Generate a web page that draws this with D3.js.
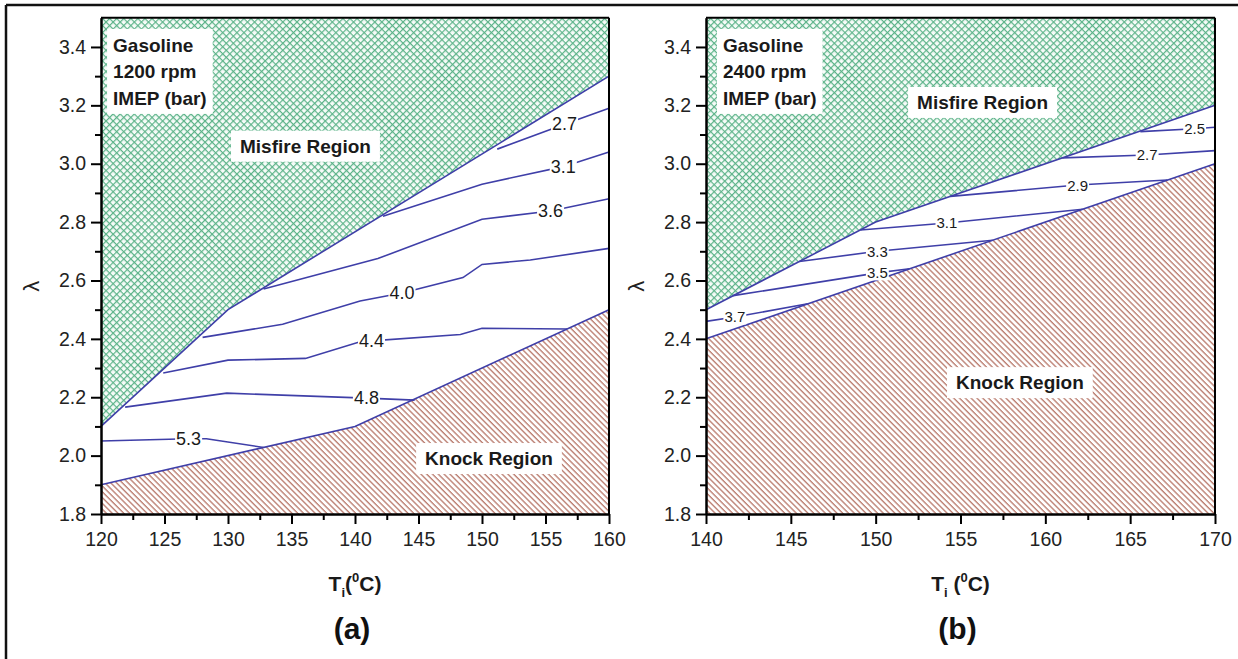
<!DOCTYPE html>
<html><head><meta charset="utf-8">
<script src="https://cdn.jsdelivr.net/npm/d3@7"></script>
<style>body{margin:0;background:#fff}svg{display:block}text{font-family:"Liberation Sans",Arial,sans-serif}</style>
</head><body>
<svg id="chart" width="1238" height="659"></svg>
<script>
// ---------------- DATA ----------------
const yTicks = [1.8, 2.0, 2.2, 2.4, 2.6, 2.8, 3.0, 3.2, 3.4];
const yMinor = [1.9, 2.1, 2.3, 2.5, 2.7, 2.9, 3.1, 3.3];
const yDomain = [1.8, 3.5];

// Panel (a): 1200 rpm
const xTicksA = [120, 125, 130, 135, 140, 145, 150, 155, 160];
const xMinorA = [122.5, 127.5, 132.5, 137.5, 142.5, 147.5, 152.5, 157.5];
const misfireA = [[120, 2.1], [130, 2.5], [160, 3.3]];
const knockA = [[120, 1.9], [140, 2.1], [160, 2.5]];
const levelsA = ["2.7", "3.1", "3.6", "4.0", "4.4", "4.8", "5.3"];
const contoursA = [
  [[151.2, 3.05], [156.5, 3.135], [160, 3.19]],
  [[142.2, 2.82], [150, 2.93], [156.4, 2.99], [160, 3.04]],
  [[132.8, 2.571], [141.8, 2.675], [150, 2.81], [155.4, 2.838], [160, 2.88]],
  [[128, 2.405], [134.3, 2.45], [140.4, 2.53], [143.7, 2.557], [148.5, 2.61], [150, 2.655], [153.8, 2.67], [160, 2.71]],
  [[124.9, 2.283], [130, 2.327], [136.1, 2.333], [140.4, 2.39], [141.3, 2.393], [148.3, 2.415], [150, 2.436], [156.7, 2.434]],
  [[121.9, 2.166], [129.9, 2.214], [140.9, 2.197], [144.7, 2.19]],
  [[120, 2.05], [126.9, 2.058], [128.3, 2.058], [132.8, 2.028]]
];
const labelPosA = [[156.5, 3.135], [156.4, 2.99], [155.4, 2.838], [143.7, 2.557], [141.3, 2.393], [140.9, 2.197], [126.9, 2.058]];

// Panel (b): 2400 rpm
const xTicksB = [140, 145, 150, 155, 160, 165, 170];
const xMinorB = [142.5, 147.5, 152.5, 157.5, 162.5, 167.5];
const misfireB = [[140, 2.5], [150, 2.8], [170, 3.2]];
const knockB = [[140, 2.4], [170, 3.0]];
const levelsB = ["2.5", "2.7", "2.9", "3.1", "3.3", "3.5", "3.7"];
const contoursB = [
  [[165.6, 3.11], [168.8, 3.12], [170, 3.125]],
  [[161, 3.02], [166, 3.03], [170, 3.045]],
  [[154.4, 2.888], [161.9, 2.927], [167.2, 2.944]],
  [[149.1, 2.773], [154.2, 2.797], [162.2, 2.844]],
  [[145.5, 2.665], [150.1, 2.70], [156.9, 2.738]],
  [[141.6, 2.548], [150.1, 2.626], [152, 2.64]],
  [[140, 2.46], [141.7, 2.475], [146, 2.52]]
];
const labelPosB = [[168.8, 3.12], [166, 3.03], [161.9, 2.927], [154.2, 2.797], [150.1, 2.70], [150.1, 2.626], [141.7, 2.475]];

const infoA = ["Gasoline", "1200 rpm", "IMEP (bar)"];
const infoB = ["Gasoline", "2400 rpm", "IMEP (bar)"];
const misfireText = "Misfire Region";
const knockText = "Knock Region";

// --------------- RENDER ---------------
const svg = d3.select("#chart");
svg.append("rect").attr("width", 1238).attr("height", 659).attr("fill", "#fff");

const defs = svg.append("defs");
const P = 5.0;
const green = defs.append("pattern").attr("id", "cross").attr("patternUnits", "userSpaceOnUse")
  .attr("width", P).attr("height", P).attr("patternTransform", "rotate(45)");
green.append("rect").attr("width", P).attr("height", P).attr("fill", "#f7fcf9");
green.append("line").attr("x1", 0).attr("y1", 0).attr("x2", P).attr("y2", 0).attr("stroke", "#5cb389").attr("stroke-width", 2.4);
green.append("line").attr("x1", 0).attr("y1", 0).attr("x2", 0).attr("y2", P).attr("stroke", "#5cb389").attr("stroke-width", 2.4);

const H = 4.1;
const brown = defs.append("pattern").attr("id", "hatch").attr("patternUnits", "userSpaceOnUse")
  .attr("width", 4).attr("height", H).attr("patternTransform", "rotate(45)");
brown.append("rect").attr("width", 4).attr("height", H).attr("fill", "#fff");
brown.append("line").attr("x1", 0).attr("y1", 0.7).attr("x2", 4).attr("y2", 0.7).attr("stroke", "#b8786a").attr("stroke-width", 1.3);

// outer frame (left and top edges visible)
svg.append("line").attr("x1", 6).attr("y1", 5).attr("x2", 1238).attr("y2", 5).attr("stroke", "#111").attr("stroke-width", 2.5);
svg.append("line").attr("x1", 6).attr("y1", 5).attr("x2", 6).attr("y2", 659).attr("stroke", "#111").attr("stroke-width", 2.5);

const lineColor = "#3f3fa8";

function labelBox(g, x, y, txt, opts) {
  const t = g.append("text").attr("x", x).attr("y", y).attr("text-anchor", "middle")
    .attr("dominant-baseline", "central").attr("font-size", opts.size)
    .attr("font-weight", opts.bold ? "bold" : "normal").attr("fill", "#1a1a1a").text(txt);
  const b = t.node().getBBox();
  g.insert("rect", () => t.node()).attr("x", b.x - opts.px).attr("y", b.y - opts.py + 1)
    .attr("width", b.width + 2 * opts.px).attr("height", b.height + 2 * opts.py - 2).attr("fill", "#fff");
}

function panel(cfg) {
  const x = d3.scaleLinear().domain(cfg.xDomain).range([cfg.left, cfg.right]);
  const y = d3.scaleLinear().domain(yDomain).range([514, 514 - 1.7 * 291.9]);
  const g = svg.append("g");
  const [x0, x1] = cfg.xDomain;
  const poly = d3.line().x(d => x(d[0])).y(d => y(d[1]));

  const mis = [[x0, yDomain[1]], [x1, yDomain[1]]].concat(cfg.misfire.slice().reverse());
  g.append("path").attr("d", poly(mis) + "Z").attr("fill", "url(#cross)");
  const kn = cfg.knock.concat([[x1, yDomain[0]], [x0, yDomain[0]]]);
  g.append("path").attr("d", poly(kn) + "Z").attr("fill", "url(#hatch)");

  const lines = [cfg.misfire, cfg.knock].concat(cfg.contours);
  g.selectAll("path.c").data(lines).enter().append("path").attr("class", "c")
    .attr("d", poly).attr("fill", "none").attr("stroke", lineColor).attr("stroke-width", 1.6);

  cfg.levels.forEach((lv, i) => {
    labelBox(g, x(cfg.labelPos[i][0]), y(cfg.labelPos[i][1]), lv, {size: cfg.labelSize, bold: false, px: 1, py: 0});
  });

  labelBox(g, x(cfg.misPos[0]), y(cfg.misPos[1]), misfireText, {size: 19, bold: true, px: 9, py: 6});
  labelBox(g, x(cfg.knPos[0]), y(cfg.knPos[1]), knockText, {size: 19, bold: true, px: 9, py: 6});

  const ix = x(cfg.infoPos[0]), iy = y(cfg.infoPos[1]);
  const ig = g.append("g");
  cfg.info.forEach((s, i) => ig.append("text").attr("x", ix).attr("y", iy + i * 26.5)
    .attr("font-size", 19).attr("font-weight", "bold").attr("fill", "#1a1a1a").text(s));
  const bb = ig.node().getBBox();
  ig.insert("rect", ":first-child").attr("x", bb.x - 6).attr("y", bb.y - 6)
    .attr("width", bb.width + 12).attr("height", bb.height + 11).attr("fill", "#fff");

  g.append("line").attr("x1", cfg.left).attr("x2", cfg.right).attr("y1", y(yDomain[1])).attr("y2", y(yDomain[1])).attr("stroke", "#000").attr("stroke-width", 2);
  g.append("line").attr("x1", cfg.right).attr("x2", cfg.right).attr("y1", y(yDomain[1])).attr("y2", 514).attr("stroke", "#000").attr("stroke-width", 2);

  const style = a => {
    a.select(".domain").attr("stroke", "#000").attr("stroke-width", 2);
    a.selectAll(".tick line").attr("stroke", "#000").attr("stroke-width", 2);
    a.selectAll(".tick text").attr("font-size", 19.5).attr("fill", "#222").attr("font-family", '"Liberation Sans",Arial,sans-serif');
  };
  g.append("g").attr("transform", `translate(0,514)`)
    .call(d3.axisBottom(x).tickValues(cfg.xMinor).tickSize(6).tickFormat("").tickSizeOuter(0)).call(style);
  g.append("g").attr("transform", `translate(0,514)`)
    .call(d3.axisBottom(x).tickValues(cfg.xTicks).tickSize(10).tickPadding(8).tickFormat(d3.format("d")).tickSizeOuter(0)).call(style);
  g.append("g").attr("transform", `translate(${cfg.left},0)`)
    .call(d3.axisLeft(y).tickValues(yMinor).tickSize(6).tickFormat("").tickSizeOuter(0)).call(style);
  g.append("g").attr("transform", `translate(${cfg.left},0)`)
    .call(d3.axisLeft(y).tickValues(yTicks).tickSize(10).tickPadding(5).tickFormat(d3.format(".1f")).tickSizeOuter(0)).call(style);

  g.append("text").attr("transform", `translate(${cfg.left - 70},${y(2.58)}) rotate(-90)`)
    .attr("text-anchor", "middle").attr("dominant-baseline", "central").attr("font-size", 22).attr("fill", "#222").text("λ");
  const xc = (cfg.left + cfg.right) / 2;
  const xt = g.append("text").attr("x", xc).attr("y", 591).attr("text-anchor", "middle")
    .attr("font-size", 21).attr("font-weight", "bold").attr("fill", "#1a1a1a");
  xt.append("tspan").text("T");
  xt.append("tspan").attr("font-size", 13).attr("dy", 6).text("i");
  xt.append("tspan").attr("dy", -6).text(cfg.sep + "(");
  xt.append("tspan").attr("font-size", 13).attr("dy", -9).text("0");
  xt.append("tspan").attr("dy", 9).text("C)");
  g.append("text").attr("x", xc - 3).attr("y", 639).attr("text-anchor", "middle")
    .attr("font-size", 30).attr("font-weight", "bold").attr("fill", "#111").text(cfg.tag);
}

panel({left: 101, right: 609, xDomain: [120, 160], xTicks: xTicksA, xMinor: xMinorA,
  misfire: misfireA, knock: knockA, contours: contoursA, levels: levelsA, labelPos: labelPosA, labelSize: 18,
  misPos: [136.1, 3.06], knPos: [150.55, 1.99], info: infoA, infoPos: [120.95, 3.383], sep: "", tag: "(a)"});
panel({left: 706, right: 1215, xDomain: [140, 170], xTicks: xTicksB, xMinor: xMinorB,
  misfire: misfireB, knock: knockB, contours: contoursB, levels: levelsB, labelPos: labelPosB, labelSize: 15,
  misPos: [156.3, 3.21], knPos: [158.5, 2.25], info: infoB, infoPos: [141.0, 3.383], sep: " ", tag: "(b)"});
</script>
</body></html>
